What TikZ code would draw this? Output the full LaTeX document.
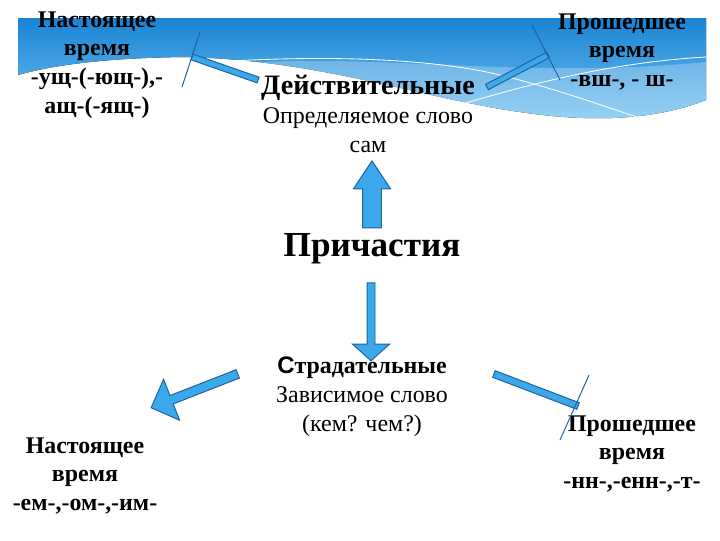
\documentclass[tikz,border=0pt]{standalone}
\usepackage{fontspec}
\setmainfont{Liberation Serif}
\newfontfamily\arialfont{Liberation Sans}
\usetikzlibrary{shapes.arrows, positioning}
\definecolor{bandtop}{RGB}{24,132,212}
\definecolor{bandbot}{RGB}{120,196,242}
\definecolor{arrowfill}{RGB}{58,168,235}
\definecolor{arrowline}{RGB}{30,98,160}
\newcommand{\pxu}{0.025cm}

\begin{document}
\begin{tikzpicture}[
    x=0.025cm, y=-0.025cm,
    every node/.style={align=center, inner sep=0pt, outer sep=0pt},
    timetext/.style={font=\bfseries\fontsize{17}{20.5}\selectfont},
    plaintext/.style={font=\fontsize{17}{20.5}\selectfont},
    blockarrow/.style={single arrow, draw=arrowline, fill=arrowfill, line width=0.7pt, sloped, allow upside down, inner xsep=0pt},
    barbox/.style={rectangle, draw=arrowline, fill=arrowfill, line width=0.7pt, sloped, allow upside down, minimum height=6*\pxu},
    tick/.style={draw=arrowline, line width=0.7pt}
]
\useasboundingbox (0,0) rectangle (720,540);

% Background band
\fill[top color=bandtop, bottom color=bandbot] (18,18) -- (706,18) -- (706,100)
    .. controls (660,118) and (600,124) .. (520,112)
    .. controls (420,98) and (320,60) .. (185,57)
    .. controls (100,58) and (50,66) .. (18,75) -- cycle;
\fill[white, opacity=0.25] (230,64) .. controls (380,52) and (520,80) .. (706,62) -- (706,100)
    .. controls (660,118) and (600,124) .. (520,112) .. controls (420,98) and (320,70) .. cycle;
\draw[white, line width=0.6pt] (216,62) .. controls (320,55) and (430,58) .. (500,75) .. controls (560,90) and (600,105) .. (637,117);
\draw[white, line width=0.6pt] (443,110) .. controls (540,80) and (620,62) .. (706,57);

% Nodes
\node (pres1) [timetext] at (97,65) {Настоящее\\время\\-ущ-(-ющ-),-\\ащ-(-ящ-)};
\node (past1) [timetext] at (622,52) {Прошедшее\\время\\-вш-, - ш-};
\node (act) [plaintext] at (368,114) {{\bfseries\fontsize{20}{20.5}\selectfont Действительные}\\Определяемое слово\\сам};
\node (main) [font=\bfseries\fontsize{25}{28}\selectfont] at (372,249) {Причастия};
\node (pas) [plaintext] at (362,397) {\textbf{{\arialfont С}традательные}\\Зависимое слово\\(кем? чем?)};
\node (pres2) [timetext] at (85,476) {Настоящее\\время\\-ем-,-ом-,-им-};
\node (past2) [timetext] at (632,454) {Прошедшее\\время\\-нн-,-енн-,-т-};

% Connector ends
\coordinate (upS) at (372,235);
\coordinate (upE) at (372,168);
\coordinate (downS) at (371,281);
\coordinate (downE) at (371,359);
\coordinate (leftS) at (240,373);
\coordinate (leftE) at (153,407);
\coordinate (tlS) at (258,80);
\coordinate (tlE) at (192,57);
\coordinate (tlA) at (200,32);
\coordinate (tlB) at (182,87);
\coordinate (trS) at (487,87);
\coordinate (trE) at (548,55);
\coordinate (trA) at (532,25);
\coordinate (trB) at (560,80);
\coordinate (brS) at (494,374);
\coordinate (brE) at (578,406);
\coordinate (brA) at (589,375);
\coordinate (brB) at (560,440);

% Edges
\path (upS) -- node[blockarrow, inner ysep=9*\pxu, single arrow head extend=9*\pxu, single arrow tip angle=67, minimum height=67*\pxu] {} (upE);
\path (downS) -- node[blockarrow, inner ysep=3.5*\pxu, single arrow head extend=14.5*\pxu, single arrow tip angle=96, minimum height=78*\pxu] {} (downE);
\path (leftS) -- node[blockarrow, inner ysep=4*\pxu, single arrow head extend=17.5*\pxu, single arrow tip angle=90, minimum height=93*\pxu] {} (leftE);

\path (tlS) -- node[barbox, minimum width=70*\pxu] {} (tlE);
\draw[tick] (tlA) -- (tlB);
\path (trS) -- node[barbox, minimum width=69*\pxu] {} (trE);
\draw[tick] (trA) -- (trB);
\path (brS) -- node[barbox, minimum width=90*\pxu, minimum height=7*\pxu] {} (brE);
\draw[tick] (brA) -- (brB);

\end{tikzpicture}
\end{document}
